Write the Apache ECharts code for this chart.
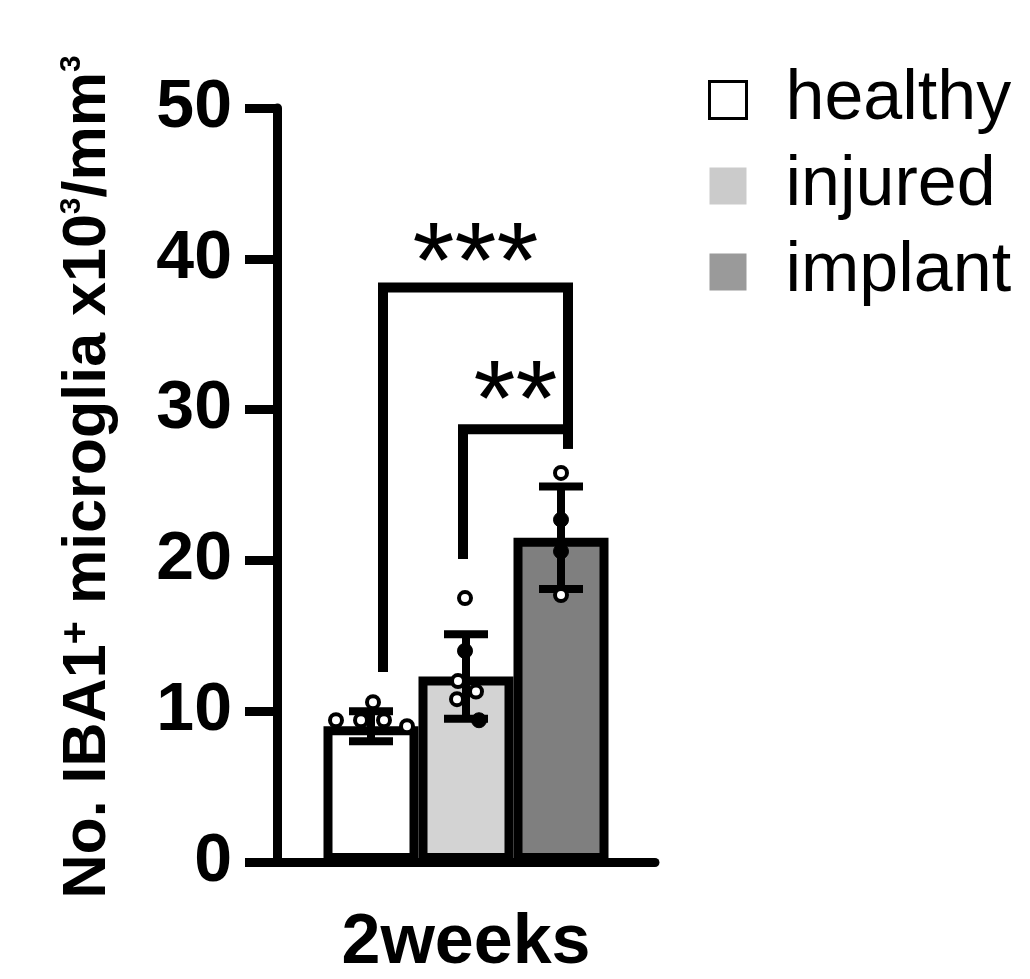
<!DOCTYPE html>
<html>
<head>
<meta charset="utf-8">
<script src="https://cdn.jsdelivr.net/npm/echarts@6/dist/echarts.min.js"></script>
<style>
  html, body { margin: 0; padding: 0; background: #fff; }
  #chart { width: 1030px; height: 979px; }
</style>
</head>
<body>
<div id="chart"></div>
<script>
// data
var categories = ['2weeks'];
var groups = ['healthy', 'injured', 'implant'];
var means = [9.0, 12.3, 21.5];
var sds = [1.0, 2.8, 3.4];

var healthyPts = [9.4, 9.4, 10.6, 9.4, 9.0];
var injuredPts = [17.5, 14.0, 12.0, 11.3, 10.8, 9.4];
var implantPts = [25.8, 22.7, 20.6, 17.7];
// 1 = filled dot, 0 = open dot
var healthyFilled = [0, 0, 0, 0, 0];
var injuredFilled = [0, 1, 0, 0, 0, 1];
var implantFilled = [0, 1, 1, 0];

var yMin = 0, yMax = 50, yStep = 10;

var sigLabels = ['***', '**'];
var sigPairs = [[0, 2], [1, 2]];
var sigTop = [38.1, 28.7];
var sigEnds = [[12.6, 27.4], [20.1, 27.4]];

// layout / style
var barColors = ['#ffffff', '#d3d3d3', '#7f7f7f'];
var legendColors = ['#ffffff', '#cbcbcb', '#9a9a9a'];
var BAR_W = 95, BAR_GAP = 0;
var BAR_STEP = BAR_W * (1 + BAR_GAP);
var CAP = 22;
var jitter = [[-35, -10, 2, 13, 36], [-1, -1, -8, 10, -9, 13], [0, 0, 0, 0]];
var sigLegOffsets = [[12, 7], [-3, 7]];
var FONT = '"Liberation Sans", Arial, sans-serif';

var chart = echarts.init(document.getElementById('chart'));

var errData = means.map(function (m, i) { return [0, i, m, sds[i]]; });

var ptData = [];
[healthyPts, injuredPts, implantPts].forEach(function (arr, g) {
  var fill = [healthyFilled, injuredFilled, implantFilled][g];
  arr.forEach(function (v, k) { ptData.push([0, g, v, jitter[g][k], fill[k]]); });
});

var sigData = sigLabels.map(function (s, i) {
  return [0, sigPairs[i][0], sigPairs[i][1], sigEnds[i][0], sigEnds[i][1], sigTop[i], i];
});

function groupX(api, g, v) {
  var p = api.coord([0, v]);
  return [p[0] + (g - 1) * BAR_STEP, p[1]];
}

function renderErr(params, api) {
  var g = api.value(1), m = api.value(2), s = api.value(3);
  var t = groupX(api, g, m + s), b = groupX(api, g, m - s);
  var st = { stroke: '#000', lineWidth: 8 };
  return {
    type: 'group',
    children: [
      { type: 'line', shape: { x1: t[0], y1: t[1], x2: b[0], y2: b[1] }, style: st },
      { type: 'line', shape: { x1: t[0] - CAP, y1: t[1], x2: t[0] + CAP, y2: t[1] }, style: st },
      { type: 'line', shape: { x1: b[0] - CAP, y1: b[1], x2: b[0] + CAP, y2: b[1] }, style: st }
    ]
  };
}

function renderPt(params, api) {
  var p = groupX(api, api.value(1), api.value(2));
  var filled = api.value(4) === 1;
  return {
    type: 'circle',
    shape: { cx: p[0] + api.value(3), cy: p[1], r: filled ? 7.5 : 6 },
    style: { fill: filled ? '#000' : '#fff', stroke: '#000', lineWidth: filled ? 1 : 4 }
  };
}

function renderSig(params, api) {
  var i = api.value(6);
  var l = groupX(api, api.value(1), api.value(3));
  var r = groupX(api, api.value(2), api.value(4));
  var top = api.coord([0, api.value(5)])[1];
  var xl = l[0] + sigLegOffsets[i][0], xr = r[0] + sigLegOffsets[i][1];
  return {
    type: 'group',
    children: [
      {
        type: 'polyline',
        shape: { points: [[xl, l[1]], [xl, top], [xr, top], [xr, r[1]]] },
        style: { stroke: '#000', lineWidth: 10, fill: null, lineJoin: 'miter' }
      },
      {
        type: 'text',
        style: {
          text: sigLabels[i], x: (xl + xr) / 2, y: top - 20 - i * 4,
          align: 'center', verticalAlign: 'middle',
          font: 'normal 108px ' + FONT, fill: '#000'
        }
      }
    ]
  };
}

var barSeries = groups.map(function (name, i) {
  return {
    name: name,
    type: 'bar',
    data: [means[i]],
    barWidth: BAR_W,
    barGap: (BAR_GAP * 100) + '%',
    itemStyle: { color: barColors[i], borderColor: '#000', borderWidth: 9 },
    z: 2
  };
});

chart.setOption({
  animation: false,
  backgroundColor: '#fff',
  textStyle: { fontFamily: FONT },
  grid: { left: 277, right: 375, top: 108, bottom: 115 },
  legend: {
    orient: 'vertical',
    left: 708,
    top: 65,
    itemWidth: 37,
    itemHeight: 37,
    itemGap: 16,
    padding: 0,
    icon: 'rect',
    textStyle: { fontSize: 70, color: '#000', fontFamily: FONT, padding: [0, 0, 0, 34] },
    data: groups.map(function (name, i) {
      return {
        name: name,
        itemStyle: i === 0
          ? { color: legendColors[i], borderColor: '#000', borderWidth: 3 }
          : { color: legendColors[i], borderWidth: 0 }
      };
    })
  },
  xAxis: {
    type: 'category',
    data: categories,
    axisLine: { lineStyle: { color: '#000', width: 9 } },
    axisTick: { alignWithLabel: true, length: 30, lineStyle: { color: '#000', width: 9 } },
    axisLabel: { color: '#000', fontSize: 70, fontWeight: 'bold', margin: 47 }
  },
  yAxis: {
    type: 'value',
    min: yMin,
    max: yMax,
    interval: yStep,
    name: 'No. IBA1{plus|+} microglia x10{cube|3}/mm{cube|3}',
    nameLocation: 'middle',
    nameGap: 158,
    nameTextStyle: {
      color: '#000', fontSize: 61, fontWeight: 'bold', fontFamily: FONT, lineHeight: 62,
      padding: [0, 0, 0, 16],
      rich: {
        plus: { fontSize: 40, fontWeight: 'bold', color: '#000', verticalAlign: 'top', lineHeight: 62 },
        cube: { fontSize: 30, fontWeight: 'bold', color: '#000', verticalAlign: 'top', lineHeight: 62 }
      }
    },
    splitLine: { show: false },
    axisLine: { show: true, lineStyle: { color: '#000', width: 9 } },
    axisTick: { show: true, length: 32, lineStyle: { color: '#000', width: 9 } },
    axisLabel: { color: '#000', fontSize: 68, fontWeight: 'bold', margin: 45 }
  },
  series: barSeries.concat([
    {
      name: 'sd',
      type: 'custom',
      renderItem: renderErr,
      data: errData,
      encode: { x: 0, y: 2 },
      z: 3,
      silent: true
    },
    {
      name: 'points',
      type: 'custom',
      renderItem: renderPt,
      data: ptData,
      encode: { x: 0, y: 2 },
      z: 4,
      silent: true
    },
    {
      name: 'significance',
      type: 'custom',
      renderItem: renderSig,
      data: sigData,
      encode: { x: 0, y: 5 },
      z: 5,
      silent: true
    }
  ])
});
</script>
</body>
</html>
